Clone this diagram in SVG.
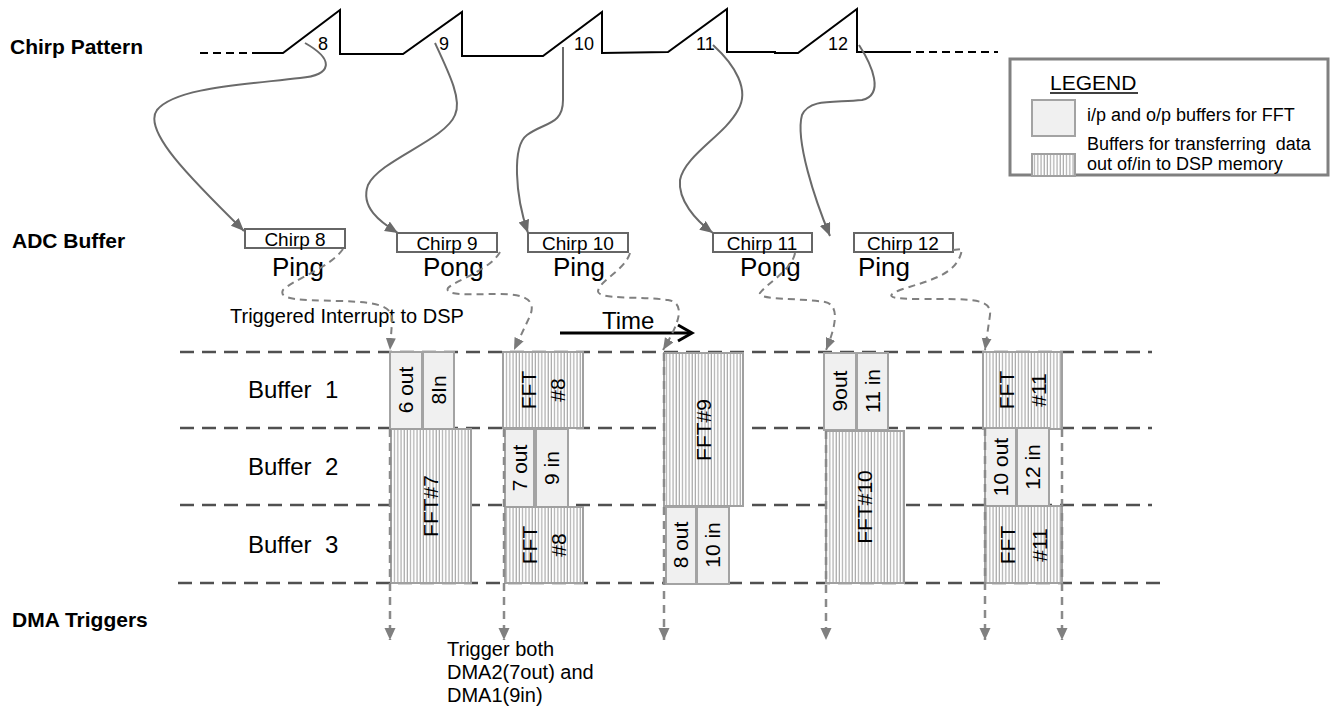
<svg xmlns="http://www.w3.org/2000/svg" width="1338" height="706" viewBox="0 0 1338 706">
<style>
text{font-family:"Liberation Sans",Arial,sans-serif;fill:#000}
.lbl{font-size:21px;font-weight:bold}
.buf{font-size:24px}
.adc{fill:#fff;stroke:#666;stroke-width:2}
.ct{font-size:19px;text-anchor:middle}
.pp{font-size:26px}
.io{fill:#f0f0f0;stroke:#a3a3a3;stroke-width:2}
.fft{fill:url(#hatch);stroke:#a0a0a0;stroke-width:2}
.bt{font-size:21px;text-anchor:middle}
.hl{stroke:#505050;stroke-width:2.5;stroke-dasharray:14 8;fill:none}
.vl{stroke:#8a8a8a;stroke-width:2.5;stroke-dasharray:8 6;fill:none}
.sc{stroke:#6a6a6a;stroke-width:2;fill:none;marker-end:url(#ah)}
.dc{stroke:#808080;stroke-width:2;stroke-dasharray:7 5;fill:none;marker-end:url(#ahd)}
</style>
<defs>
<pattern id="hatch" width="3.2" height="10" patternUnits="userSpaceOnUse">
<rect width="3.2" height="10" fill="#fff"/>
<line x1="1" y1="0" x2="1" y2="10" stroke="#9a9a9a" stroke-width="1"/>
</pattern>
<marker id="ah" markerUnits="userSpaceOnUse" markerWidth="14" markerHeight="12" refX="13" refY="5.5" orient="auto">
<path d="M0,0 L13,5.5 L0,11 z" fill="#6a6a6a"/>
</marker>
<marker id="ahd" markerUnits="userSpaceOnUse" markerWidth="14" markerHeight="12" refX="12" refY="5" orient="auto">
<path d="M0,0 L12,5 L0,10 z" fill="#7a7a7a"/>
</marker>
<marker id="ahv" markerUnits="userSpaceOnUse" markerWidth="14" markerHeight="12" refX="12" refY="5.5" orient="auto">
<path d="M0,0 L12,5.5 L0,11 z" fill="#808080"/>
</marker>
</defs>
<rect width="1338" height="706" fill="#fff"/>

<g id="labels">
<text class="lbl" x="10" y="54">Chirp Pattern</text>
<text class="lbl" x="12" y="248">ADC Buffer</text>
<text class="lbl" x="12" y="627">DMA Triggers</text>
<text class="buf" x="248" y="398" xml:space="preserve">Buffer  1</text>
<text class="buf" x="248" y="475" xml:space="preserve">Buffer  2</text>
<text class="buf" x="248" y="553" xml:space="preserve">Buffer  3</text>
<text x="230" y="323" font-size="20">Triggered Interrupt to DSP</text>
<text x="447" y="656" font-size="20">Trigger both</text>
<text x="447" y="679" font-size="20">DMA2(7out) and</text>
<text x="447" y="702" font-size="20">DMA1(9in)</text>
</g>

<g id="chirp-pattern">
<line x1="200" y1="53" x2="258" y2="53" stroke="#000" stroke-width="2" stroke-dasharray="8 5"/>
<polyline points="258,53 283,53 340,10 340,54 403,54 462,12 462,56 543,56 602,12 602,53 668,52 727,9 727,52 775,52 775,53 798,53 857,9 857,52 903,52" fill="none" stroke="#000" stroke-width="2"/>
<line x1="903" y1="52" x2="998" y2="52" stroke="#000" stroke-width="2" stroke-dasharray="8 5"/>
<text x="318" y="50" font-size="18">8</text>
<text x="439" y="50" font-size="18">9</text>
<text x="574" y="50" font-size="18">10</text>
<text x="696" y="50" font-size="18">11</text>
<text x="828" y="50" font-size="18">12</text>
</g>

<g id="legend">
<rect x="1010" y="59" width="318" height="116" fill="#fff" stroke="#808080" stroke-width="3"/>
<text x="1050" y="90" font-size="21">LEGEND</text>
<line x1="1050" y1="93" x2="1138" y2="93" stroke="#000" stroke-width="1.5"/>
<rect x="1032" y="100" width="43" height="36" class="io"/>
<text x="1087" y="121" font-size="18">i/p and o/p buffers for FFT</text>
<rect x="1032" y="154" width="43" height="22" class="fft"/>
<text x="1087" y="150" font-size="18" xml:space="preserve">Buffers for transferring  data</text>
<text x="1087" y="170" font-size="18">out of/in to DSP memory</text>
</g>

<g id="adc-chirp8"><rect class="adc" x="245" y="229" width="100" height="19"/><text class="ct" x="295" y="246">Chirp 8</text><text class="pp" x="272" y="276">Ping</text></g>
<g id="adc-chirp9"><rect class="adc" x="397" y="233" width="100" height="19"/><text class="ct" x="447" y="250">Chirp 9</text><text class="pp" x="423" y="276">Pong</text></g>
<g id="adc-chirp10"><rect class="adc" x="528" y="233" width="100" height="19"/><text class="ct" x="578" y="250">Chirp 10</text><text class="pp" x="553" y="276">Ping</text></g>
<g id="adc-chirp11"><rect class="adc" x="713" y="233" width="99" height="19"/><text class="ct" x="762" y="250">Chirp 11</text><text class="pp" x="740" y="276">Pong</text></g>
<g id="adc-chirp12"><rect class="adc" x="854" y="233" width="99" height="19"/><text class="ct" x="903" y="250">Chirp 12</text><text class="pp" x="858" y="276">Ping</text></g>

<g id="rows">
<line class="hl" x1="180" y1="352" x2="1152" y2="352"/>
<line class="hl" x1="180" y1="428" x2="1152" y2="428"/>
<line class="hl" x1="180" y1="505" x2="1152" y2="505"/>
<line class="hl" x1="178" y1="583" x2="1160" y2="583"/>
</g>

<g id="time">
<text x="602" y="329" font-size="24">Time</text>
<line x1="560" y1="333" x2="691" y2="333" stroke="#000" stroke-width="3"/>
<polyline points="678,325 692,333 678,341" fill="none" stroke="#000" stroke-width="3"/>
</g>

<g id="b-6out"><rect class="io" x="390" y="352" width="32" height="77"/><text class="bt" transform="translate(406,390) rotate(-90)" dy="0.35em">6 out</text></g>
<g id="b-8in"><rect class="io" x="423" y="352" width="31" height="77"/><text class="bt" transform="translate(438.5,390) rotate(-90)" dy="0.35em">8In</text></g>
<g id="b-fft7"><rect class="fft" x="391" y="429" width="80" height="154"/><text class="bt" transform="translate(431,506) rotate(-90)" dy="0.35em">FFT#7</text></g>
<g id="b-fft8a"><rect class="fft" x="503" y="352" width="80" height="76"/><text class="bt" transform="translate(543,390) rotate(-90)"><tspan x="0" dy="-7">FFT</tspan><tspan x="0" dy="29">#8</tspan></text></g>
<g id="b-7out"><rect class="io" x="505" y="429" width="29" height="78"/><text class="bt" transform="translate(519.5,468) rotate(-90)" dy="0.35em">7 out</text></g>
<g id="b-9in"><rect class="io" x="536" y="429" width="32" height="78"/><text class="bt" transform="translate(552,468) rotate(-90)" dy="0.35em">9 in</text></g>
<g id="b-fft8b"><rect class="fft" x="505" y="507" width="78" height="76"/><text class="bt" transform="translate(544,545) rotate(-90)"><tspan x="0" dy="-7">FFT</tspan><tspan x="0" dy="29">#8</tspan></text></g>
<g id="b-fft9"><rect class="fft" x="664" y="353" width="79" height="153"/><text class="bt" transform="translate(703.5,430) rotate(-90)" dy="0.35em">FFT#9</text></g>
<g id="b-8out"><rect class="io" x="666" y="507" width="30" height="77"/><text class="bt" transform="translate(681,545) rotate(-90)" dy="0.35em">8 out</text></g>
<g id="b-10in"><rect class="io" x="697" y="507" width="32" height="77"/><text class="bt" transform="translate(713,545) rotate(-90)" dy="0.35em">10 in</text></g>
<g id="b-9out"><rect class="io" x="824" y="353" width="32" height="77"/><text class="bt" transform="translate(840,391) rotate(-90)" dy="0.35em">9out</text></g>
<g id="b-11in"><rect class="io" x="857" y="353" width="31" height="77"/><text class="bt" transform="translate(872.5,391) rotate(-90)" dy="0.35em">11 in</text></g>
<g id="b-fft10"><rect class="fft" x="826" y="431" width="78" height="152"/><text class="bt" transform="translate(865,507) rotate(-90)" dy="0.35em">FFT#10</text></g>
<g id="b-fft11a"><rect class="fft" x="983" y="352" width="79" height="77"/><text class="bt" transform="translate(1022.5,390) rotate(-90)"><tspan x="0" dy="-9">FFT</tspan><tspan x="0" dy="32">#11</tspan></text></g>
<g id="b-10out"><rect class="io" x="985" y="428" width="31" height="78"/><text class="bt" transform="translate(1000.5,467) rotate(-90)" dy="0.35em" font-size="19">10 out</text></g>
<g id="b-12in"><rect class="io" x="1017" y="428" width="32" height="78"/><text class="bt" transform="translate(1033,467) rotate(-90)" dy="0.35em">12 in</text></g>
<g id="b-fft11b"><rect class="fft" x="985" y="506" width="77" height="77"/><text class="bt" transform="translate(1023.5,545) rotate(-90)"><tspan x="0" dy="-9">FFT</tspan><tspan x="0" dy="32">#11</tspan></text></g>

<g id="connectors">
<path class="sc" d="M305,43 C335,60 332,75 300,78 C240,85 175,88 157,110 C142,130 190,178 244,231"/>
<path class="sc" d="M435,43 C450,75 462,100 455,115 C445,140 380,160 368,185 C360,207 380,222 398,233"/>
<path class="sc" d="M563,47 L563,100 C563,125 545,122 527,135 C512,146 515,195 528,233"/>
<path class="sc" d="M713,45 C735,65 750,90 738,110 C725,135 685,155 680,180 C678,200 695,220 713,233"/>
<path class="sc" d="M859,45 C872,65 885,95 862,100 C835,103 810,98 802,115 C795,140 815,200 830,236"/>

<path class="dc" d="M343,249 C330,268 292,280 283,290 C278,300 300,300 340,301 C378,302 394,306 392,322 L390,350"/>
<path class="dc" d="M500,252 C490,270 456,280 448,288 C444,296 470,294 500,294 C527,294 536,301 530,316 L514,350"/>
<path class="dc" d="M630,253 C625,270 600,280 598,291 C597,300 640,296 668,300 C686,303 680,322 663,350"/>
<path class="dc" d="M795,253 C792,270 765,285 760,293 C757,300 800,298 825,302 C840,305 836,326 826,350"/>
<path class="dc" d="M953,250 L962,249 C958,275 930,280 900,290 C885,296 888,299 920,299 C970,299 992,298 990,315 L985,350"/>

<g stroke="#8a8a8a" stroke-width="2.5" stroke-dasharray="8 6" fill="none" marker-end="url(#ahv)">
<line x1="390" y1="429" x2="390" y2="640"/>
<line x1="504" y1="429" x2="504" y2="640"/>
<line x1="664" y1="353" x2="664" y2="640"/>
<line x1="826" y1="431" x2="826" y2="640"/>
<line x1="985" y1="428" x2="985" y2="640"/>
<line x1="1062" y1="429" x2="1062" y2="640"/>
</g>
</g>
</svg>
